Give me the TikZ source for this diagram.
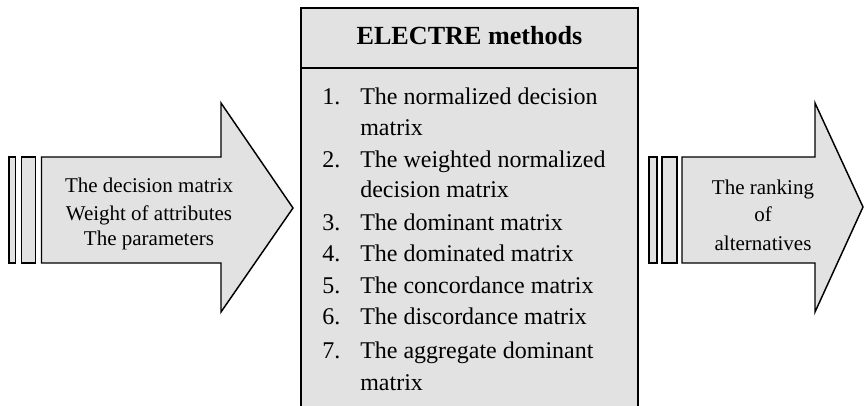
\documentclass[tikz,border=0pt]{standalone}
\usepackage{fontspec}
\setmainfont{Liberation Serif}
\begin{document}
\definecolor{panel}{RGB}{226,226,226}
\begin{tikzpicture}[x=0.75pt,y=-0.75pt,
  shape outline/.style={draw=black,line width=1.1pt,fill=panel,line join=miter},
  box outline/.style={draw=black,line width=1.5pt},
  arrowtext/.style={anchor=base,inner sep=0pt,font=\fontsize{15.75}{18}\selectfont},
  itemnum/.style={anchor=base west,inner sep=0pt,font=\fontsize{18}{21}\selectfont},
  itemtext/.style={anchor=base west,inner sep=0pt,font=\fontsize{18}{21}\selectfont},
  headtext/.style={anchor=base,inner sep=0pt,font=\bfseries\fontsize{19.6}{23}\selectfont}]
\useasboundingbox (0,0) rectangle (864,406);

% input arrow with its three stripes
\draw[shape outline] (9,157) rectangle (15.7,263);
\draw[shape outline] (21.7,157) rectangle (35.7,263);
\draw[shape outline] (41.5,157) -- (221,157) -- (221,103) -- (293,208)
  -- (221,312) -- (221,263) -- (41.5,263) -- cycle;
\node[arrowtext] (in1) at (149,192.7) {The decision matrix};
\node[arrowtext] (in2) at (149,220) {Weight of attributes};
\node[arrowtext] (in3) at (149,245.7) {The parameters};

% output arrow with its three stripes
\draw[shape outline] (649,157) rectangle (657,263);
\draw[shape outline] (662,157) rectangle (677,263);
\draw[shape outline] (682,157) -- (815,157) -- (815,103) -- (863,207)
  -- (815,312) -- (815,263) -- (682,263) -- cycle;
\node[arrowtext] (out1) at (763,194.5) {The ranking};
\node[arrowtext] (out2) at (763,222) {of};
\node[arrowtext] (out3) at (763,250) {alternatives};

% central panel, open at the bottom
\fill[panel] (301,8.5) rectangle (638,410);
\draw[box outline] (301,410) -- (301,8.5) -- (638,8.5) -- (638,410);
\draw[box outline] (301,68.5) -- (638,68.5);
\node[headtext] (head) at (469.5,45) {ELECTRE methods};

% numbered steps
\node[itemnum] (n1) at (322,105) {1.};
\node[itemtext] (t1) at (360,105) {The normalized decision};
\node[itemtext] (t1b) at (360,135.5) {matrix};
\node[itemnum] (n2) at (322,167.5) {2.};
\node[itemtext] (t2) at (360,167.5) {The weighted normalized};
\node[itemtext] (t2b) at (360,198) {decision matrix};
\node[itemnum] (n3) at (322,230.5) {3.};
\node[itemtext] (t3) at (360,230.5) {The dominant matrix};
\node[itemnum] (n4) at (322,262) {4.};
\node[itemtext] (t4) at (360,262) {The dominated matrix};
\node[itemnum] (n5) at (322,293) {5.};
\node[itemtext] (t5) at (360,293) {The concordance matrix};
\node[itemnum] (n6) at (322,324) {6.};
\node[itemtext] (t6) at (360,324) {The discordance matrix};
\node[itemnum] (n7) at (322,358) {7.};
\node[itemtext] (t7) at (360,358) {The aggregate dominant};
\node[itemtext] (t7b) at (360,390) {matrix};
\end{tikzpicture}
\end{document}
